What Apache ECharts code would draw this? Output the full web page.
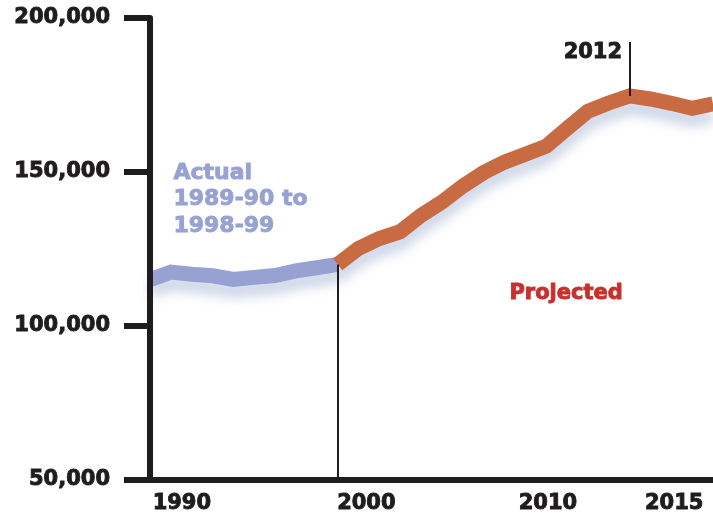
<!DOCTYPE html>
<html>
<head>
<meta charset="utf-8">
<script src="https://cdn.jsdelivr.net/npm/echarts@6/dist/echarts.min.js"></script>
<style>
  html, body { margin: 0; padding: 0; background: #ffffff; }
  #chart { width: 713px; height: 520px; }
</style>
</head>
<body>
<div id="chart"></div>
<script>
// School years, keyed by the fall year (1989 = 1989-90)
const actualYears = [1989, 1990, 1991, 1992, 1993, 1994, 1995, 1996, 1997, 1998];
const actualValues = [115000, 117500, 116800, 116300, 115100, 115800, 116400, 117900, 118900, 120000];

const projectedYears = [1998, 1999, 2000, 2001, 2002, 2003, 2004, 2005, 2006, 2007,
                        2008, 2009, 2010, 2011, 2012, 2013, 2014, 2015, 2016];
const projectedValues = [120000, 125200, 128400, 130600, 135900, 140200, 145400, 149800, 153200, 155800,
                         158400, 164100, 169700, 172400, 174700, 173700, 172300, 170700, 172100];

const xTickLabels = [1990, 2000, 2010, 2015];
const yTickValues = [50000, 100000, 150000, 200000];

const peakYear = 2012;
const peakValue = 174700;
const lastActualYear = 1998;
const lastActualValue = 120000;

// horizontal nudges (px) for the year labels under the axis
const labelNudge = { 1990: 11, 2000: -13, 2010: -40, 2015: -18 };

const INK = '#1f1c1d';
const BLUE = '#97a2d3';
const ORANGE = '#c86b42';
const RED = '#c7302d';
const FONT = 'DejaVu Sans';

// heavy type: bold face plus a thin stroke in the same colour
const heavy = color => ({
  fontFamily: FONT, fontWeight: 'bold', color: color,
  textBorderColor: color, textBorderWidth: 0.9
});

const pairs = (xs, ys) => xs.map((x, i) => [x, ys[i]]);
const withCommas = v => String(v).replace(/\B(?=(\d{3})+(?!\d))/g, ',');

const rich = {};
Object.keys(labelNudge).forEach(k => {
  const d = labelNudge[k];
  rich['n' + k] = Object.assign(heavy(INK), {
    fontSize: 21,
    padding: d >= 0 ? [0, 0, 0, 2 * d] : [0, -2 * d, 0, 0]
  });
});

const lineShadow = {
  shadowColor: 'rgba(130,150,195,0.4)',
  shadowBlur: 12,
  shadowOffsetY: 11
};

const chart = echarts.init(document.getElementById('chart'), null, { renderer: 'canvas' });

chart.setOption({
  animation: false,
  backgroundColor: '#ffffff',
  grid: { left: 150, right: 0, top: 18, bottom: 40, containLabel: false },
  xAxis: {
    type: 'value',
    min: 1989,
    max: 2016,
    splitLine: { show: false },
    axisLine: { show: true, lineStyle: { color: INK, width: 6 } },
    axisTick: { show: false },
    axisLabel: Object.assign(heavy(INK), {
      customValues: xTickLabels,
      margin: 13,
      fontSize: 21,
      formatter: v => '{n' + v + '|' + v + '}',
      rich: rich
    })
  },
  yAxis: {
    type: 'value',
    min: 50000,
    max: 200000,
    interval: 50000,
    z: 5,
    splitLine: { show: false },
    axisLine: { show: true, onZero: false, lineStyle: { color: INK, width: 6 } },
    axisTick: {
      show: true,
      customValues: yTickValues,
      length: 26,
      lineStyle: { color: INK, width: 6 }
    },
    axisLabel: Object.assign(heavy(INK), {
      customValues: yTickValues,
      margin: 40,
      fontSize: 21,
      formatter: v => withCommas(v)
    })
  },
  series: [
    {
      name: 'Actual',
      type: 'line',
      data: pairs(actualYears, actualValues),
      symbol: 'none',
      z: 3,
      lineStyle: Object.assign({ color: BLUE, width: 15, join: 'miter' }, lineShadow),
      markLine: {
        silent: true,
        symbol: ['none', 'none'],
        label: { show: false },
        lineStyle: { color: INK, width: 2, type: 'solid' },
        data: [[{ coord: [lastActualYear, 50000] }, { coord: [lastActualYear, lastActualValue] }]]
      }
    },
    {
      name: 'Projected',
      type: 'line',
      data: pairs(projectedYears, projectedValues),
      symbol: 'none',
      z: 3,
      lineStyle: Object.assign({ color: ORANGE, width: 15, join: 'miter' }, lineShadow),
      markLine: {
        silent: true,
        symbol: ['none', 'none'],
        label: { show: false },
        lineStyle: { color: INK, width: 2, type: 'solid' },
        data: [[{ coord: [peakYear, peakValue] }, { coord: [peakYear, 192200] }]]
      },
      markPoint: {
        silent: true,
        symbol: 'circle',
        symbolSize: 1,
        itemStyle: { color: 'rgba(0,0,0,0)' },
        label: Object.assign(heavy(INK), {
          show: true,
          position: 'left',
          distance: 7,
          formatter: String(peakYear),
          fontSize: 21
        }),
        data: [{ coord: [peakYear, 188800] }]
      }
    }
  ],
  graphic: [
    {
      type: 'text',
      left: 173,
      top: 160,
      silent: true,
      style: {
        text: 'Actual\n1989-90 to\n1998-99',
        font: 'bold 22px "DejaVu Sans"',
        lineHeight: 26.5,
        fill: BLUE,
        stroke: BLUE,
        lineWidth: 0.9
      }
    },
    {
      type: 'text',
      left: 509,
      top: 283,
      silent: true,
      style: {
        text: 'Projected',
        font: 'bold 21px "DejaVu Sans"',
        fill: RED,
        stroke: RED,
        lineWidth: 0.9
      }
    }
  ]
});
</script>
</body>
</html>
